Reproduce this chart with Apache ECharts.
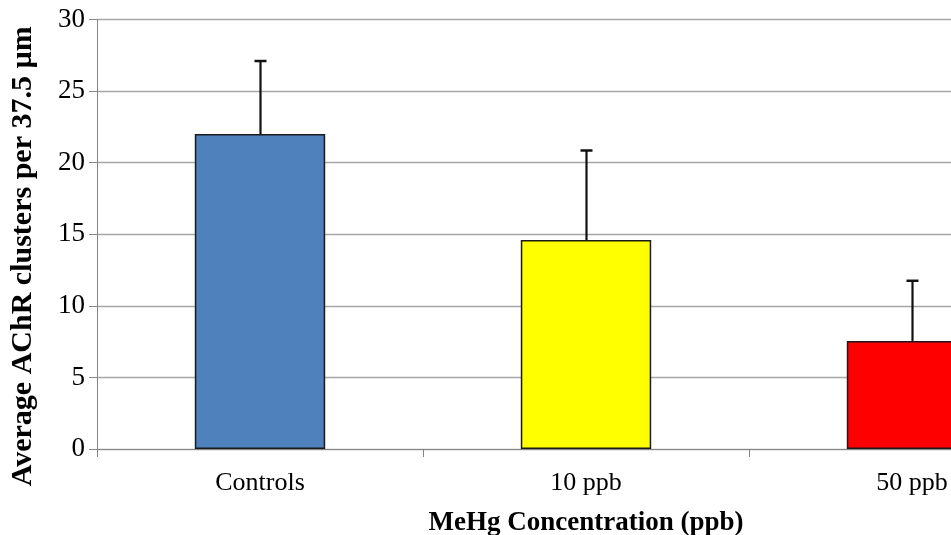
<!DOCTYPE html>
<html>
<head>
<meta charset="utf-8">
<script src="https://cdn.jsdelivr.net/npm/echarts@6/dist/echarts.min.js"></script>
<style>html,body{margin:0;padding:0;background:#fff}#c{width:951px;height:535px}</style>
</head>
<body>
<div id="c"></div>
<script>
var categories = ['Controls', '10 ppb', '50 ppb'];
var means = [22.0, 14.6, 7.55];
var errors = [5.1, 6.25, 4.2];
var barColors = ['#4F81BD', '#FFFF00', '#FF0000'];
var yTicks = [0, 5, 10, 15, 20, 25, 30];

var chart = echarts.init(document.getElementById('c'));
var font = '"Liberation Serif", "Times New Roman", serif';

chart.setOption({
  animation: false,
  grid: { left: 97, width: 978, top: 19.5, height: 429.5, outerBoundsMode: 'none', containLabel: false },
  xAxis: {
    type: 'category',
    data: categories,
    name: 'MeHg Concentration (ppb)',
    nameLocation: 'middle',
    nameGap: 61,
    nameTextStyle: { fontFamily: font, fontWeight: 'bold', fontSize: 27, color: '#000' },
    axisLine: { lineStyle: { color: '#868686', width: 1 } },
    axisTick: { show: true, length: 8, lineStyle: { color: '#868686' } },
    axisLabel: { fontFamily: font, fontSize: 26, color: '#000', margin: 21 },
    splitLine: { show: false }
  },
  yAxis: {
    type: 'value',
    min: yTicks[0],
    max: yTicks[yTicks.length - 1],
    interval: 5,
    name: 'Average AChR clusters per 37.5 µm',
    nameLocation: 'middle',
    nameGap: 59,
    nameRotate: 90,
    nameTextStyle: { fontFamily: font, fontWeight: 'bold', fontSize: 30, color: '#000', padding: [0, 44, 0, 0] },
    axisLine: { show: true, lineStyle: { color: '#868686', width: 1 } },
    axisTick: { show: true, length: 8, lineStyle: { color: '#868686' } },
    axisLabel: { fontFamily: font, fontSize: 27, color: '#000', margin: 12 },
    splitLine: { lineStyle: { color: '#a6a6a6', width: 1.3 } }
  },
  series: [
    {
      type: 'bar',
      barWidth: '40%',
      data: means.map(function (v, i) {
        return { value: v, itemStyle: { color: barColors[i] } };
      }),
      itemStyle: { borderColor: '#1a1a1a', borderWidth: 1.5 },
      z: 2
    },
    {
      type: 'custom',
      z: 3,
      data: means.map(function (v, i) { return [i, v, v + errors[i]]; }),
      renderItem: function (params, api) {
        var base = api.coord([api.value(0), api.value(1)]);
        var top = api.coord([api.value(0), api.value(2)]);
        var x = Math.round(base[0]) + 0.5;
        return {
          type: 'group',
          children: [
            { type: 'line', shape: { x1: x, y1: base[1], x2: x, y2: top[1] }, style: { stroke: '#111', lineWidth: 2.2 } },
            { type: 'line', shape: { x1: x - 6, y1: top[1], x2: x + 6, y2: top[1] }, style: { stroke: '#111', lineWidth: 2.5 } }
          ]
        };
      }
    }
  ]
});
</script>
</body>
</html>
